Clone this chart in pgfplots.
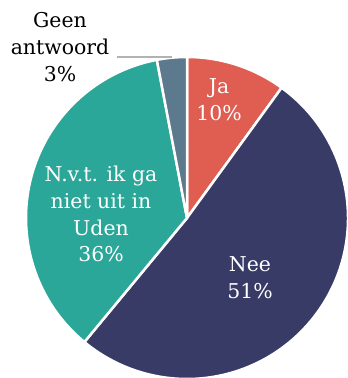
\documentclass[border=0pt]{standalone}
\usepackage{pgfplots}
\pgfplotsset{compat=1.18}
\usepackage{fontspec}
\setmainfont{DejaVu Serif}
\definecolor{cJa}{HTML}{DF5D51}
\definecolor{cNee}{HTML}{393B67}
\definecolor{cNvt}{HTML}{2BA79A}
\definecolor{cGeen}{HTML}{5D798D}
\begin{document}
\begin{tikzpicture}
\begin{axis}[
  width=348bp, height=378bp, scale only axis,
  xmin=0, xmax=348, ymin=0, ymax=378,
  hide axis, clip=true]
% shares in %: Ja 10, Nee 51, N.v.t. 36, Geen antwoord 3 (clockwise from the top)
\def\cx{187}\def\cy{160}\def\R{161bp}
\fill[cJa,draw=white,line width=2.5bp,line join=round]
  (axis cs:\cx,\cy) -- ++(90:\R) arc[start angle=90, end angle={90-3.6*10}, radius=\R] -- cycle;
\fill[cNee,draw=white,line width=2.5bp,line join=round]
  (axis cs:\cx,\cy) -- ++({90-3.6*10}:\R) arc[start angle={90-3.6*10}, end angle={90-3.6*61}, radius=\R] -- cycle;
\fill[cNvt,draw=white,line width=2.5bp,line join=round]
  (axis cs:\cx,\cy) -- ++({90-3.6*61}:\R) arc[start angle={90-3.6*61}, end angle={90-3.6*97}, radius=\R] -- cycle;
\fill[cGeen,draw=white,line width=2.5bp,line join=round]
  (axis cs:\cx,\cy) -- ++({90-3.6*97}:\R) arc[start angle={90-3.6*97}, end angle={90-3.6*100}, radius=\R] -- cycle;
\draw[gray!60,line width=1.5bp] (axis cs:117,321) -- (axis cs:172,321);
\begin{scope}[every node/.style={align=center,inner sep=0pt,font=\fontsize{20.5}{27}\selectfont}]
\node[text=white] at (axis cs:219,278) {Ja\\10\%};
\node[text=white] at (axis cs:250,100) {Nee\\51\%};
\node[text=white] at (axis cs:101,164) {N.v.t. ik ga\\niet uit in\\Uden\\36\%};
\node[text=black] at (axis cs:60,331) {Geen\\antwoord\\3\%};
\end{scope}
\end{axis}
\pgfresetboundingbox
\path[use as bounding box] (current axis.south west) rectangle (current axis.north east);
\end{tikzpicture}
\end{document}
